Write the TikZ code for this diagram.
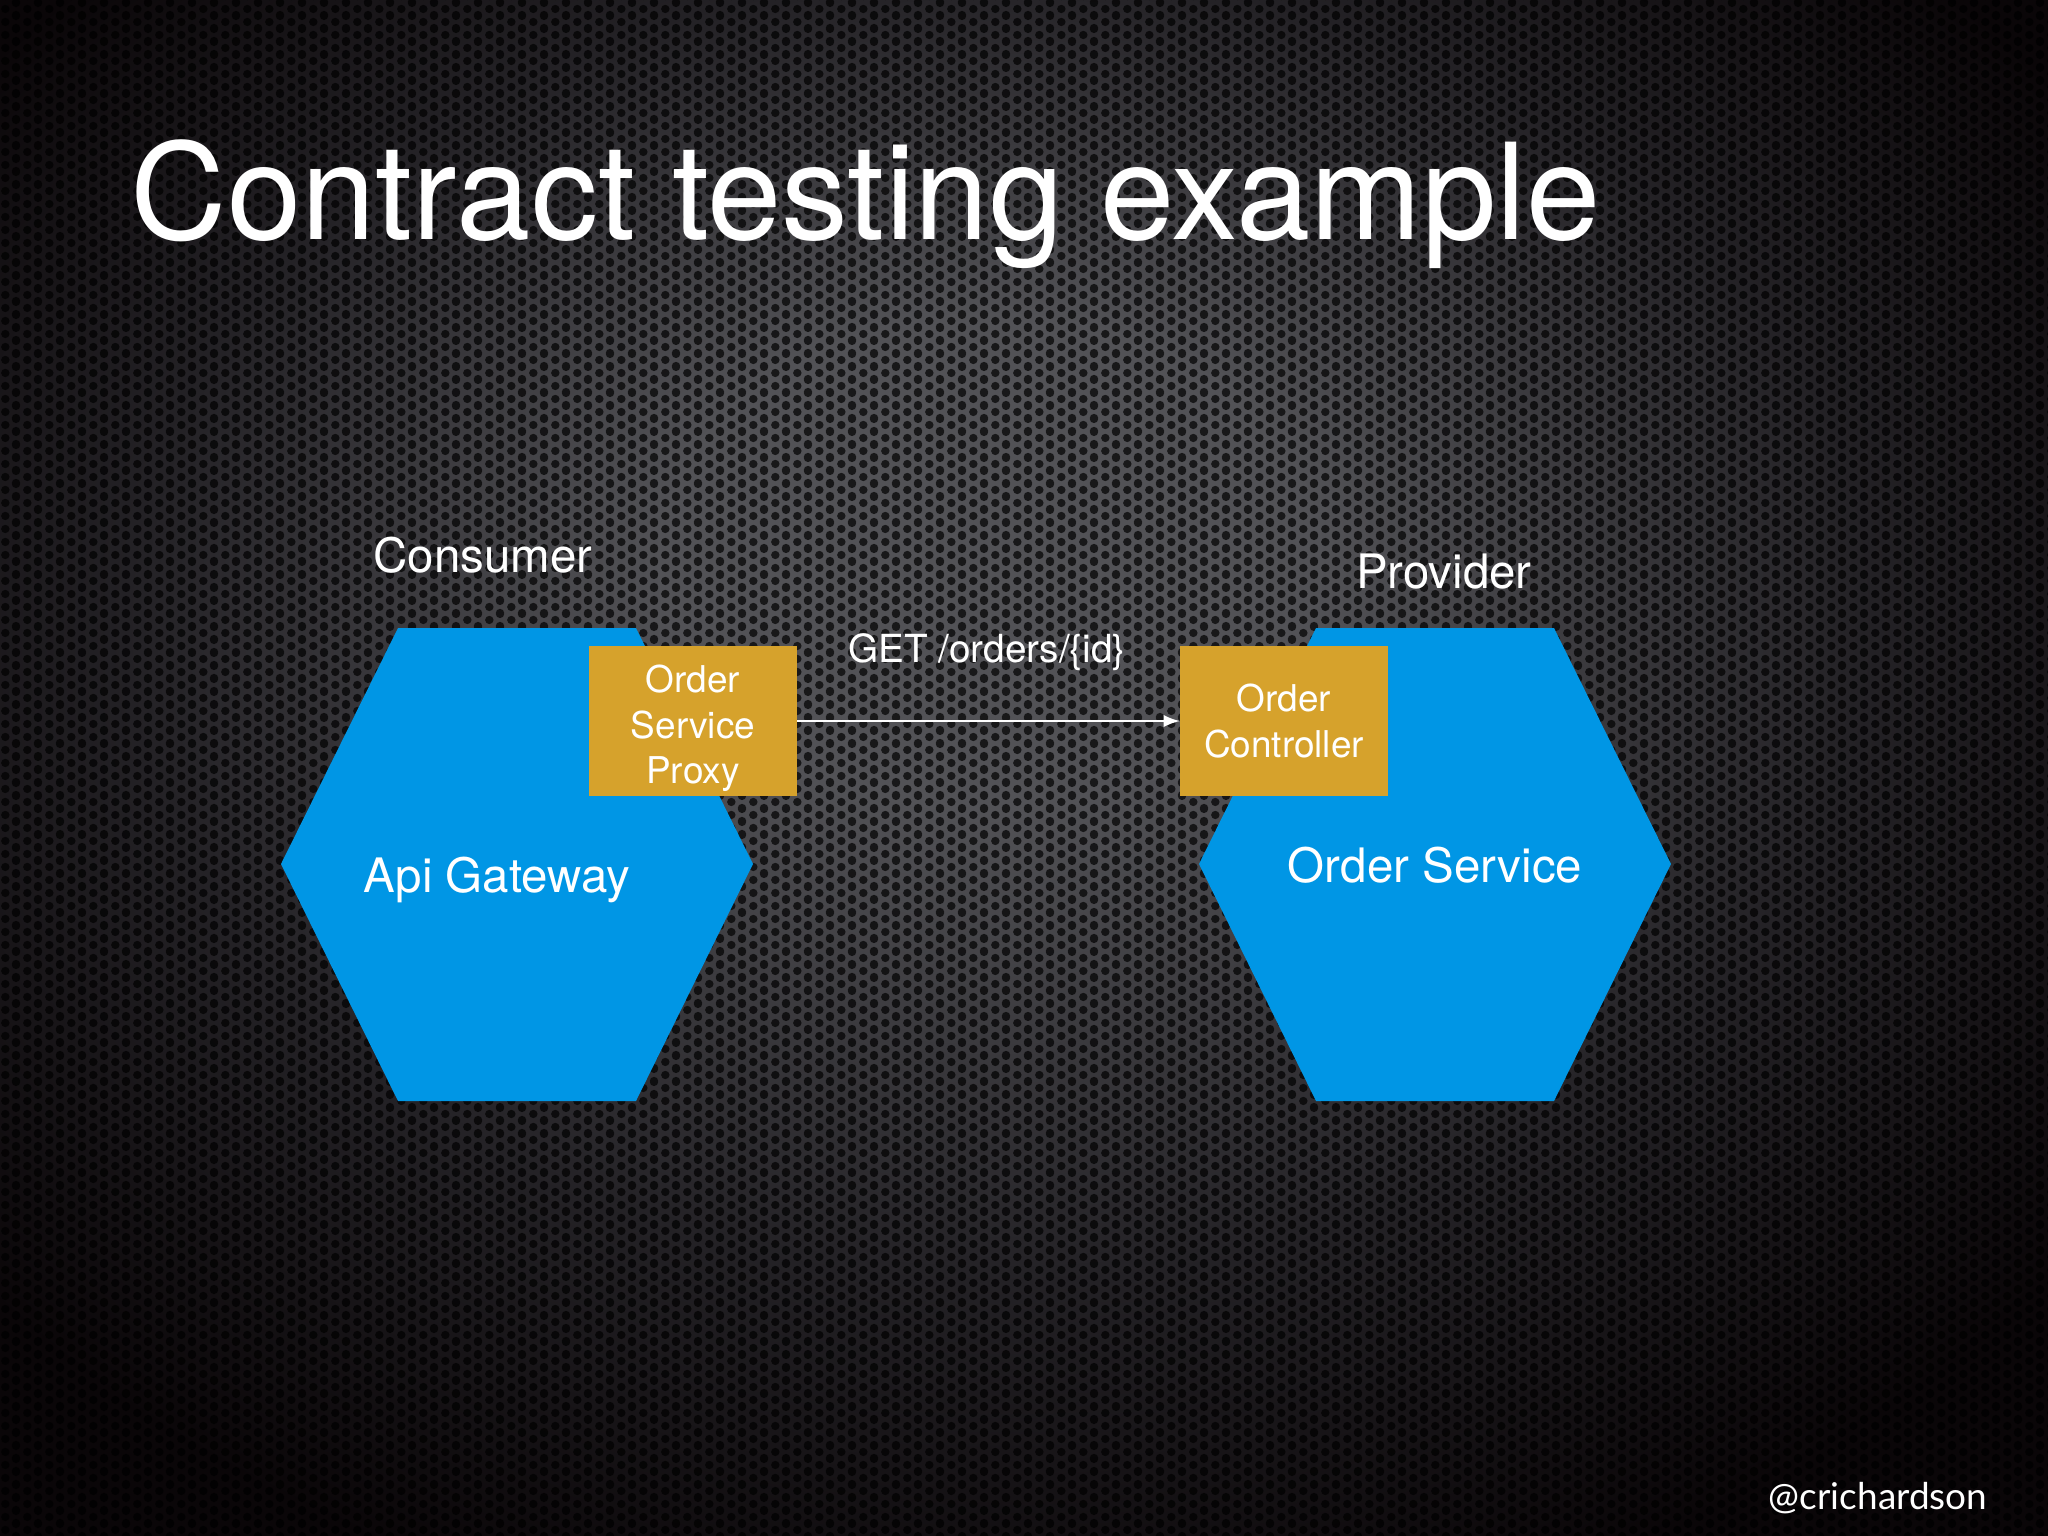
\documentclass[tikz,border=0pt]{standalone}
\usepackage{fontspec}
\setmainfont{TeX Gyre Heros}
\newfontfamily\handlefont{Lato}
\usetikzlibrary{patterns}

\definecolor{hexblue}{RGB}{0,150,229}
\definecolor{boxgold}{RGB}{214,162,44}
\definecolor{bgmid}{RGB}{82,82,86}
\definecolor{bgring}{RGB}{36,34,38}
\definecolor{bgedge}{RGB}{10,6,8}

\pgfdeclareradialshading{slidebg}{\pgfpoint{-1bp}{8bp}}{color(0bp)=(bgmid); color(8bp)=(bgmid); color(21bp)=(bgring); color(32bp)=(bgedge); color(50bp)=(bgedge)}

\pgfdeclarepatternformonly{perforation}{\pgfpointorigin}{\pgfpoint{6.16pt}{3.56pt}}{\pgfpoint{6.16pt}{3.56pt}}{
  \pgfpathcircle{\pgfpoint{1.54pt}{1.78pt}}{1.22pt}
  \pgfpathcircle{\pgfpoint{4.62pt}{0pt}}{1.22pt}
  \pgfpathcircle{\pgfpoint{4.62pt}{3.56pt}}{1.22pt}
  \pgfusepath{fill}
}

\begin{document}
\begin{tikzpicture}[x=0.01cm,y=-0.01cm,
    role/.style={anchor=base,inner sep=0pt,text=white,font=\fontsize{13.5}{16}\selectfont},
    svc/.style={anchor=base,inner sep=0pt,text=white,font=\fontsize{13.5}{16}\selectfont},
    part/.style={fill=boxgold,text=white,inner sep=0pt,align=center,
        minimum width=2.07cm,minimum height=1.5cm,font=\fontsize{10.5}{13}\selectfont},
    hexa/.style={fill=hexblue}]
                % slide background
                \shade[shading=slidebg] (0,0) rectangle (2048,1536);
                \fill[pattern=perforation,pattern color=black,fill opacity=0.7] (0,0) rectangle (2048,1536);
                \node[anchor=base west,inner sep=0pt,text=white,font=\fontsize{38}{44}\selectfont](title) at (130,239) {Contract testing example};
                % services
                \fill[hexa] (281,864) -- (398,628) -- (636,628) -- (753,864) -- (636,1101) -- (398,1101) -- cycle;
                \fill[hexa] (1199,864) -- (1316,628) -- (1554,628) -- (1671,864) -- (1554,1101) -- (1316,1101) -- cycle;
                \node[role](consumer) at (483,572) {Consumer};
                \node[role](provider) at (1444,588) {Provider};
                \node[svc](gw) at (497,892) {Api Gateway};
                \node[svc](ordersvc) at (1435,882) {Order Service};
                \node[part](proxy) at (693,721) {\rule{0pt}{12pt}Order\\Service\\Proxy};
                \node[part](ctrl) at (1284,721) {Order\\Controller};
                \node[anchor=base,inner sep=0pt,text=white,font=\fontsize{11}{13}\selectfont](getreq) at (987,662) {GET /orders/\{id\}};
                \draw[->,>=latex,white,line width=0.6pt](proxy)--(ctrl);
                \node[anchor=base east,inner sep=0pt,text=white,font=\handlefont\fontsize{10.5}{12}\selectfont](handle) at (1988,1509) {@crichardson};
            \end{tikzpicture}
\end{document}
